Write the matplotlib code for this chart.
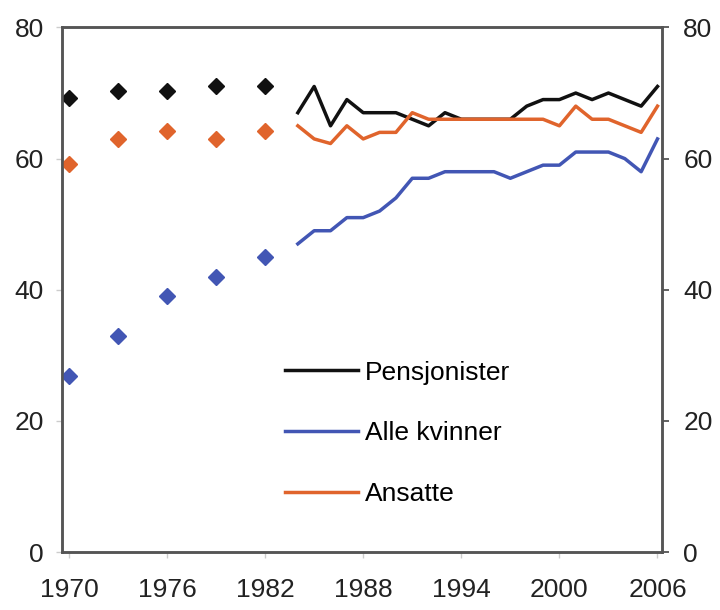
import matplotlib
matplotlib.use("Agg")
import matplotlib.pyplot as plt

plt.rcParams['font.family'] = ['Liberation Sans', 'DejaVu Sans']

# Early survey points (diamonds)
early_years = [1970, 1973, 1976, 1979, 1982]
early_pensjonister = [69.3, 70.3, 70.3, 71.1, 71.1]
early_kvinner = [26.8, 32.9, 39.0, 42.0, 45.0]
early_ansatte = [59.2, 63.0, 64.2, 63.0, 64.2]

# Annual series (lines)
years = list(range(1984, 2007))
pensjonister = [67, 71, 65, 69, 67, 67, 67, 66, 65, 67, 66, 66, 66, 66,
                68, 69, 69, 70, 69, 70, 69, 68, 71]
kvinner = [47, 49, 49, 51, 51, 52, 54, 57, 57, 58, 58, 58, 58, 57,
           58, 59, 59, 61, 61, 61, 60, 58, 63]
ansatte = [65, 63, 62.3, 65, 63, 64, 64, 67, 66, 66, 66, 66, 66, 66,
           66, 66, 65, 68, 66, 66, 65, 64, 68]

labels = ["Pensjonister", "Alle kvinner", "Ansatte"]
xticks = [1970, 1976, 1982, 1988, 1994, 2000, 2006]
yticks = [0, 20, 40, 60, 80]

c_black = "#111111"
c_blue = "#4256b4"
c_orange = "#e0642c"

fig = plt.figure(figsize=(7.2, 6.1), dpi=100)
ax = fig.add_axes([0.086, 0.095, 0.834, 0.860])

lw = 2.5
ms = 8.5
ax.plot(years, pensjonister, color=c_black, lw=lw, label=labels[0], zorder=3)
ax.plot(years, kvinner, color=c_blue, lw=lw, label=labels[1], zorder=3)
ax.plot(years, ansatte, color=c_orange, lw=lw, label=labels[2], zorder=4)
ax.plot(early_years, early_pensjonister, ls='none', marker='D', ms=ms, color=c_black, zorder=5)
ax.plot(early_years, early_kvinner, ls='none', marker='D', ms=ms, color=c_blue, zorder=5)
ax.plot(early_years, early_ansatte, ls='none', marker='D', ms=ms, color=c_orange, zorder=5)

ax.set_xlim(1969.57, 2006.3)
ax.set_ylim(0, 80)
ax.set_xticks(xticks)
ax.set_yticks(yticks)

ax2 = ax.twinx()
ax2.set_ylim(0, 80)
ax2.set_yticks(yticks)

spine_c = "#555555"
for a in (ax, ax2):
    for s in ('left', 'right', 'bottom', 'top'):
        a.spines[s].set_color(spine_c)
        a.spines[s].set_linewidth(1.8)
    a.tick_params(labelsize=19, labelcolor="#222222")
ax.tick_params(axis='x', length=4, width=1.0, color="#cccccc", pad=15)
ax.tick_params(axis='y', length=4, width=1.0, color="#cccccc", pad=9)
ax2.tick_params(axis='y', length=5, width=1.3, color=spine_c, pad=10)

leg = ax.legend(loc='upper left', bbox_to_anchor=(0.332, 0.410), frameon=False,
                fontsize=19, handlelength=2.75, labelspacing=1.39, handletextpad=0.28)

fig.savefig("out.png", dpi=100)
